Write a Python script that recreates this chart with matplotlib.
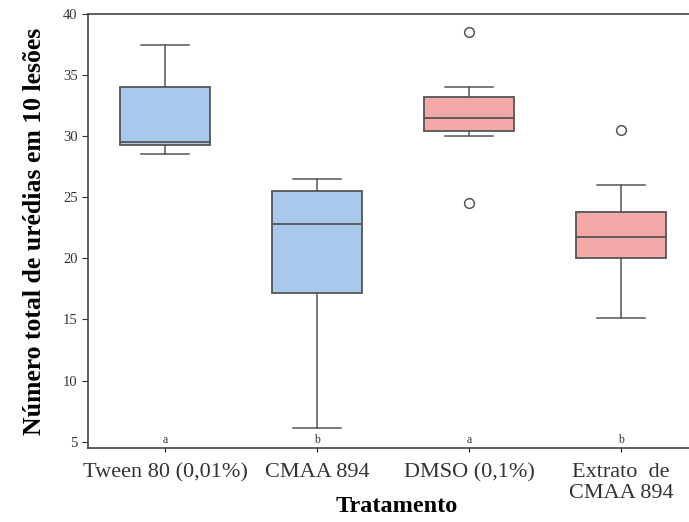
import matplotlib
matplotlib.use("Agg")
import matplotlib.pyplot as plt

plt.rcParams['font.family'] = ['Liberation Serif', 'DejaVu Serif']

# valores
tratamentos = ['Tween 80 (0,01%)', 'CMAA 894', 'DMSO (0,1%)', 'Extrato  de\nCMAA 894']
minimo = [28.5, 6.1, 30.0, 15.1]
q1 = [29.3, 17.2, 30.4, 20.0]
mediana = [29.55, 22.8, 31.45, 21.75]
q3 = [34.0, 25.5, 33.2, 23.8]
maximo = [37.5, 26.5, 34.0, 26.0]
outliers = [[], [], [38.5, 24.5], [30.5]]
letras = ['a', 'b', 'a', 'b']
cores = ['#a8c8ec', '#a8c8ec', '#f2a9a7', '#f2a9a7']

stats = []
for i in range(len(tratamentos)):
    stats.append(dict(whislo=minimo[i], q1=q1[i], med=mediana[i], q3=q3[i],
                      whishi=maximo[i], fliers=outliers[i]))

fig = plt.figure(figsize=(6.89, 5.22), dpi=100)
ax = fig.add_axes([0.1277, 0.1418, 0.8723, 0.8314])

edge = '#555555'
bp = ax.bxp(stats, positions=range(len(tratamentos)), widths=0.59, patch_artist=True,
            boxprops=dict(edgecolor=edge, linewidth=1.3),
            medianprops=dict(color=edge, linewidth=1.3),
            whiskerprops=dict(color=edge, linewidth=1.1),
            capprops=dict(color=edge, linewidth=1.1),
            capwidths=0.32,
            flierprops=dict(marker='o', markerfacecolor='white', markeredgecolor=edge,
                            markersize=7, markeredgewidth=1.1))
for patch, c in zip(bp['boxes'], cores):
    patch.set_facecolor(c)

for i, l in enumerate(letras):
    ax.text(i, 4.62, l, ha='center', va='bottom', fontsize=8.5, color='#333333')

ax.set_xlim(-0.507, 3.447)
ax.set_ylim(4.48, 40)
ax.set_yticks([5, 10, 15, 20, 25, 30, 35, 40])
ax.set_xticks(range(len(tratamentos)))
ax.set_xticklabels(tratamentos, fontsize=16, color='#333333', linespacing=1.1)
ax.tick_params(axis='y', labelsize=10.5, colors='#333333', length=4)
ax.tick_params(axis='x', length=3, pad=8)

for s in ['left', 'bottom', 'top']:
    ax.spines[s].set_color('#444444')
    ax.spines[s].set_linewidth(1.2)
ax.spines['right'].set_visible(False)

ax.set_ylabel('Número total de urédias em 10 lesões', fontsize=18.5, fontweight='bold', labelpad=12)
# titulo do eixo x posto a mao, o rotulo de duas linhas empurraria para fora
fig.text(397 / 689, 1 - 507 / 522, 'Tratamento', fontsize=17.5, fontweight='bold',
         ha='center', va='center')

fig.savefig('out.png', dpi=100)
